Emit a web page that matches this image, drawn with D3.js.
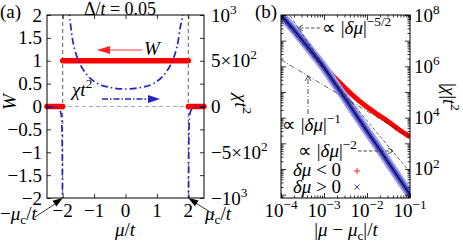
<!DOCTYPE html>
<html><head><meta charset="utf-8">
<script src="https://cdn.jsdelivr.net/npm/d3@7"></script>
<style>
body{margin:0;background:#fff}
svg{display:block}
text{font-family:"Liberation Serif","Times New Roman",serif;fill:#000}
</style>
</head><body>
<svg id="c" width="463" height="242"></svg>
<script>
// ---------------- DATA ----------------
// panel (a): winding number W (step function)
const wSegStart = [-2.5, -2.0, 2.0];
const wSegEnd   = [-2.0,  2.0, 2.5];
const wSegVal   = [0, 1, 0];
// panel (a): chi t^2 inside the topological region
const chiInMu  = [-1.86,-1.82,-1.78,-1.75,-1.68,-1.59,-1.49,-1.37,-1.21,-0.89,-0.48,0,0.48,0.89,1.21,1.37,1.49,1.59,1.68,1.75,1.80,1.84,1.88];
const chiInVal = [1700,1250,995,896,721,590,492,415,339,251,208,191,208,251,339,415,492,590,721,880,960,1150,1500];
// panel (a): chi t^2 outside (left and right)
const chiOutLMu  = [-2.5,-2.3,-2.15,-2.08,-2.04,-2.02,-2.01,-2.005];
const chiOutLVal = [-6,-10,-20,-45,-110,-300,-800,-2000];
const chiOutRMu  = [2.005,2.01,2.02,2.04,2.08,2.15,2.3,2.5];
const chiOutRVal = [-2000,-800,-300,-110,-45,-20,-10,-6];
// panel (b): |chi| t^2 vs |mu - mu_c|/t
const dMu      = [1e-4,1.8e-4,3.2e-4,5.6e-4,1e-3,1.8e-3,3.2e-3,5.6e-3,1e-2,1.8e-2,3.2e-2,5.6e-2,1e-1];
const chiNeg   = [1e8,3.2e7,1e7,3.2e6,1.05e6,3.5e5,1.35e5,5.6e4,2.6e4,1.3e4,6.8e3,3.4e3,1.8e3];   // delta mu < 0
const chiPos   = [1e8,3.2e7,1e7,3.1e6,8.9e5,2.1e5,5.2e4,1.26e4,3.0e3,7.2e2,1.7e2,42,10];          // delta mu > 0
// power-law guide lines: value at dMu = 1e-4 and 1e-1
const guideExp   = ["-5/2", "-1", "-2"];
const guideStart = [3.2e8, 1.8e6, 7.6e7];
const guideEnd   = [10, 1.8e3, 76];
// ticks
const aLeftTicks  = [-2,-1.5,-1,-0.5,0,0.5,1,1.5,2];
const aLeftLabels = ["\u22122","\u22121.5","\u22121","\u22120.5","0","0.5","1","1.5","2"];
const aRightTicks = [-1000,-750,-500,-250,0,250,500,750,1000];
const aRightLabelVals = [-1000,-500,0,500,1000];
const aRightLabels = [[["\u221210"],["3","^"]],[["\u22125\u00d710"],["2","^"]],[["0"]],[["5\u00d710"],["2","^"]],[["10"],["3","^"]]];
const aXTicks  = [-2,-1,0,1,2];
const aXLabels = ["\u22122","\u22121","0","1","2"];
const bXTicks = [1e-4,1e-3,1e-2,1e-1];
const bXExp   = ["\u22124","\u22123","\u22122","\u22121"];
const bYMajor = [1e1,1e2,1e3,1e4,1e5,1e6,1e7,1e8];
const bYLabelVals = [1e2,1e4,1e6,1e8];
const bYExp = ["2","4","6","8"];

// ---------------- HELPERS ----------------
const svg = d3.select("#c");
const FS = 19;
function rich(sel, x, y, parts, o = {}) {
  const size = o.size || FS;
  const t = sel.append("text").attr("x", x).attr("y", y).attr("font-size", size)
    .attr("text-anchor", o.anchor || "start");
  if (o.rotate) t.attr("transform", `rotate(${o.rotate},${x},${y})`);
  let cur = 0;
  parts.forEach(p => {
    const s = Array.isArray(p) ? p[0] : p;
    const st = Array.isArray(p) ? (p[1] || "") : "";
    let shift = 0, fs = size;
    if (st.includes("^")) { shift = -0.42 * size; fs = 0.7 * size; }
    if (st.includes("_")) { shift = 0.2 * size; fs = 0.7 * size; }
    const ts = t.append("tspan").text(s).attr("font-size", fs);
    if (shift - cur !== 0) ts.attr("dy", shift - cur);
    cur = shift;
    if (st.includes("i")) ts.attr("font-style", "italic");
  });
  return t;
}
function filledArrow(g, x1, y1, x2, y2, len, hw, color) {
  const a = Math.atan2(y2 - y1, x2 - x1), c = Math.cos(a), s = Math.sin(a);
  const bx = x2 - len * c, by = y2 - len * s;
  g.append("path").attr("d", `M${x2},${y2}L${bx - hw * s},${by + hw * c}L${bx + hw * s},${by - hw * c}Z`).attr("fill", color);
}
function openHead(g, x1, y1, x2, y2, len, hw, color, w) {
  const a = Math.atan2(y2 - y1, x2 - x1), c = Math.cos(a), s = Math.sin(a);
  const bx = x2 - len * c, by = y2 - len * s;
  g.append("path").attr("d", `M${bx - hw * s},${by + hw * c}L${x2},${y2}L${bx + hw * s},${by - hw * c}`)
    .attr("fill", "none").attr("stroke", color).attr("stroke-width", w);
}
function ticksOnly(g, axis) { g.call(axis); g.select(".domain").remove(); g.selectAll("line").attr("stroke", "#000").attr("stroke-width", 0.8); g.selectAll("text").remove(); }

// ---------------- PANEL (a) ----------------
const A = {l: 47, r: 204, t: 15, b: 198};
const xA = d3.scaleLinear([-2.5, 2.5], [A.l, A.r]);
const yA = d3.scaleLinear([-2, 2], [A.b, A.t]);
const yC = d3.scaleLinear([-1000, 1000], [A.b, A.t]);
const ga = svg.append("g");
svg.append("clipPath").attr("id", "ca").append("rect").attr("x", A.l).attr("y", A.t).attr("width", A.r - A.l).attr("height", A.b - A.t);

// reference lines
ga.append("line").attr("x1", xA(-2.5)).attr("x2", xA(2.5)).attr("y1", yC(0)).attr("y2", yC(0))
  .attr("stroke", "#aaa").attr("stroke-width", 1).attr("stroke-dasharray", "4,3");
[-2, 2].forEach(v => ga.append("line").attr("x1", xA(v)).attr("x2", xA(v)).attr("y1", A.t).attr("y2", A.b)
  .attr("stroke", "#333").attr("stroke-width", 0.8).attr("stroke-dasharray", "4,3"));

// W
wSegStart.forEach((s, i) => {
  ga.append("line").attr("x1", xA(s)).attr("x2", xA(wSegEnd[i])).attr("y1", yA(wSegVal[i])).attr("y2", yA(wSegVal[i]))
    .attr("stroke", "#ff0000").attr("stroke-width", 5.5).attr("stroke-linecap", "round");
});

// chi
const lineC = d3.line().x(d => d[0]).y(d => d[1]).curve(d3.curveMonotoneX);
const cg = ga.append("g").attr("clip-path", "url(#ca)");
[[chiInMu, chiInVal], [chiOutLMu, chiOutLVal], [chiOutRMu, chiOutRVal]].forEach(([m, v]) => {
  cg.append("path").attr("d", lineC(m.map((mu, i) => [xA(mu), yC(v[i])])))
    .attr("fill", "none").attr("stroke", "#2323c8").attr("stroke-width", 1.7)
    .attr("stroke-dasharray", "7,3,1.5,3");
});

// frame + ticks
ga.append("rect").attr("x", A.l).attr("y", A.t).attr("width", A.r - A.l).attr("height", A.b - A.t)
  .attr("fill", "none").attr("stroke", "#000").attr("stroke-width", 1);
ticksOnly(ga.append("g").attr("transform", `translate(${A.l},0)`), d3.axisLeft(yA).tickValues(aLeftTicks).tickSize(-4).tickSizeOuter(0));
ticksOnly(ga.append("g").attr("transform", `translate(${A.r},0)`), d3.axisRight(yC).tickValues(aRightTicks).tickSize(-4).tickSizeOuter(0));
ticksOnly(ga.append("g").attr("transform", `translate(0,${A.b})`), d3.axisBottom(xA).tickValues(aXTicks).tickSize(-4).tickSizeOuter(0));
ticksOnly(ga.append("g").attr("transform", `translate(0,${A.t})`), d3.axisTop(xA).tickValues(aXTicks).tickSize(-4).tickSizeOuter(0));

// tick labels
aLeftTicks.forEach((v, i) => rich(ga, 42, yA(v) + 6.5, [aLeftLabels[i]], {anchor: "end"}));
aRightLabelVals.forEach((v, i) => rich(ga, 211, yC(v) + 6.5, aRightLabels[i]));
aXTicks.forEach((v, i) => rich(ga, xA(v), 217, [aXLabels[i]], {anchor: "middle"}));

// labels
rich(ga, 0, 18, ["(a)"]);
rich(ga, 120, 15, ["\u0394/", ["t", "i"], " = 0.05"], {anchor: "middle", size: 18});
rich(ga, 125, 236, [["\u03bc", "i"], "/", ["t", "i"]], {anchor: "middle"});
rich(ga, 16, 102, [["W", "i"]], {anchor: "middle", rotate: -90});
rich(ga, 235, 104, [["\u03c7t", "i"], ["2", "^"]], {anchor: "middle", rotate: 90});
rich(ga, 0, 220, ["\u2212", ["\u03bc", "i"], ["c", "_"], "/", ["t", "i"]]);
rich(ga, 205, 220, [["\u03bc", "i"], ["c", "_"], "/", ["t", "i"]]);
ga.append("line").attr("x1", 35).attr("y1", 217).attr("x2", 58).attr("y2", 202).attr("stroke", "#000").attr("stroke-width", 0.8);
filledArrow(ga, 35, 217, xA(-2), A.b, 10, 3.5, "#000");
ga.append("line").attr("x1", 215).attr("y1", 215).attr("x2", 194).attr("y2", 202).attr("stroke", "#000").attr("stroke-width", 0.8);
filledArrow(ga, 215, 215, xA(2), A.b, 10, 3.5, "#000");
// W annotation
rich(ga, 144, 55, [["W", "i"]]);
ga.append("line").attr("x1", 108).attr("x2", 142).attr("y1", 50).attr("y2", 50).attr("stroke", "#ff7a7a").attr("stroke-width", 1.6);
filledArrow(ga, 142, 50, 97, 50, 13, 4, "#ff2020");
// chi annotation
rich(ga, 72, 96, [["\u03c7t", "i"], ["2", "^"]]);
ga.append("line").attr("x1", 102).attr("x2", 150).attr("y1", 99).attr("y2", 99).attr("stroke", "#2323c8").attr("stroke-width", 1.5).attr("stroke-dasharray", "6,2,1.5,2");
filledArrow(ga, 102, 99, 160, 99, 12, 4, "#2323c8");

// ---------------- PANEL (b) ----------------
const B = {l: 281, r: 410, t: 15, b: 198};
const xB = d3.scaleLog([1e-4, 1e-1], [B.l, B.r]);
const yB = d3.scaleLog([Math.pow(10, 0.87), 1e8], [B.b, B.t]);
const gb = svg.append("g");
svg.append("clipPath").attr("id", "cb").append("rect").attr("x", B.l).attr("y", B.t).attr("width", B.r - B.l).attr("height", B.b - B.t);
const pb = gb.append("g").attr("clip-path", "url(#cb)");
const lineB = d3.line().x(d => xB(d[0])).y(d => yB(d[1])).curve(d3.curveMonotoneX);
const negPts = dMu.map((d, i) => [d, chiNeg[i]]);
const posPts = dMu.map((d, i) => [d, chiPos[i]]);
pb.append("path").attr("d", lineB(negPts)).attr("fill", "none").attr("stroke", "#ff0000").attr("stroke-width", 5);
pb.append("path").attr("d", lineB(posPts)).attr("fill", "none").attr("stroke", "#a0a0f0").attr("stroke-width", 9);
pb.append("path").attr("d", lineB(posPts)).attr("fill", "none").attr("stroke", "#4848d0").attr("stroke-width", 5);
pb.append("path").attr("d", lineB(posPts)).attr("fill", "none").attr("stroke", "#000033").attr("stroke-width", 1.2);
// guides
const guideDash = {"-5/2": "3.5,2", "-1": "5,2,1,2", "-2": "3.5,2"};
guideExp.forEach((e, i) => {
  pb.append("line").attr("x1", xB(1e-4)).attr("y1", yB(guideStart[i])).attr("x2", xB(1e-1)).attr("y2", yB(guideEnd[i]))
    .attr("stroke", "#222").attr("stroke-width", 0.7).attr("stroke-dasharray", guideDash[e]);
});
// frame
gb.append("rect").attr("x", B.l).attr("y", B.t).attr("width", B.r - B.l).attr("height", B.b - B.t)
  .attr("fill", "none").attr("stroke", "#000").attr("stroke-width", 1);
const xMinor = [], yMinor = [];
[-4, -3, -2].forEach(d => { for (let k = 2; k <= 9; k++) xMinor.push(k * Math.pow(10, d)); });
[0, 1, 2, 3, 4, 5, 6, 7].forEach(d => { for (let k = 2; k <= 9; k++) { const v = k * Math.pow(10, d); if (v >= yB.domain()[0] && v <= 1e8) yMinor.push(v); } });
ticksOnly(gb.append("g").attr("transform", `translate(0,${B.b})`), d3.axisBottom(xB).tickValues(bXTicks).tickSize(-5).tickSizeOuter(0));
ticksOnly(gb.append("g").attr("transform", `translate(0,${B.b})`), d3.axisBottom(xB).tickValues(xMinor).tickSize(-2.5).tickSizeOuter(0));
ticksOnly(gb.append("g").attr("transform", `translate(0,${B.t})`), d3.axisTop(xB).tickValues(bXTicks).tickSize(-5).tickSizeOuter(0));
ticksOnly(gb.append("g").attr("transform", `translate(0,${B.t})`), d3.axisTop(xB).tickValues(xMinor).tickSize(-2.5).tickSizeOuter(0));
ticksOnly(gb.append("g").attr("transform", `translate(${B.l},0)`), d3.axisLeft(yB).tickValues(bYMajor).tickSize(-5).tickSizeOuter(0));
ticksOnly(gb.append("g").attr("transform", `translate(${B.l},0)`), d3.axisLeft(yB).tickValues(yMinor).tickSize(-2.5).tickSizeOuter(0));
ticksOnly(gb.append("g").attr("transform", `translate(${B.r},0)`), d3.axisRight(yB).tickValues(bYMajor).tickSize(-5).tickSizeOuter(0));
ticksOnly(gb.append("g").attr("transform", `translate(${B.r},0)`), d3.axisRight(yB).tickValues(yMinor).tickSize(-2.5).tickSizeOuter(0));
// tick labels
bXTicks.forEach((v, i) => rich(gb, xB(v), 217, ["10", [bXExp[i], "^"]], {anchor: "middle"}));
bYLabelVals.forEach((v, i) => rich(gb, 414, yB(v) + 6.5, ["10", [bYExp[i], "^"]]));
// labels
rich(gb, 255, 18, ["(b)"]);
rich(gb, 346, 236, ["|", ["\u03bc", "i"], " \u2212 ", ["\u03bc", "i"], ["c", "_"], "|/", ["t", "i"]], {anchor: "middle"});
rich(gb, 443, 97, ["|", ["\u03c7", "i"], "|", ["t", "i"], ["2", "^"]], {anchor: "middle", rotate: 90});
// annotations
rich(gb, 322, 34, ["\u221d |", ["\u03b4\u03bc", "i"], "|", ["\u22125/2", "^"]]);
gb.append("line").attr("x1", 320).attr("x2", 299).attr("y1", 28).attr("y2", 28).attr("stroke", "#222").attr("stroke-width", 0.8).attr("stroke-dasharray", "3.5,2");
openHead(gb, 320, 28, 298, 28, 5, 3, "#222", 0.8);
rich(gb, 282, 131, ["\u221d |", ["\u03b4\u03bc", "i"], "|", ["\u22121", "^"]]);
gb.append("line").attr("x1", 308).attr("x2", 308).attr("y1", 114).attr("y2", 77).attr("stroke", "#222").attr("stroke-width", 0.8).attr("stroke-dasharray", "5,2,1,2");
openHead(gb, 308, 114, 308, 76, 5, 3, "#222", 0.8);
rich(gb, 298, 157, ["\u221d |", ["\u03b4\u03bc", "i"], "|", ["\u22122", "^"]]);
gb.append("line").attr("x1", 358).attr("x2", 392).attr("y1", 151).attr("y2", 151).attr("stroke", "#222").attr("stroke-width", 0.8).attr("stroke-dasharray", "3.5,2");
openHead(gb, 358, 151, 393, 151, 5, 3, "#222", 0.8);
// legend
rich(gb, 293, 176, [["\u03b4\u03bc", "i"], " < 0"]);
rich(gb, 293, 193, [["\u03b4\u03bc", "i"], " > 0"]);
gb.append("path").attr("d", "M354,171h6M357,168v6").attr("stroke", "#ff2020").attr("stroke-width", 1);
gb.append("path").attr("d", "M354.5,184.5l5,5M359.5,184.5l-5,5").attr("stroke", "#3a3ad8").attr("stroke-width", 1);
</script>
</body></html>
